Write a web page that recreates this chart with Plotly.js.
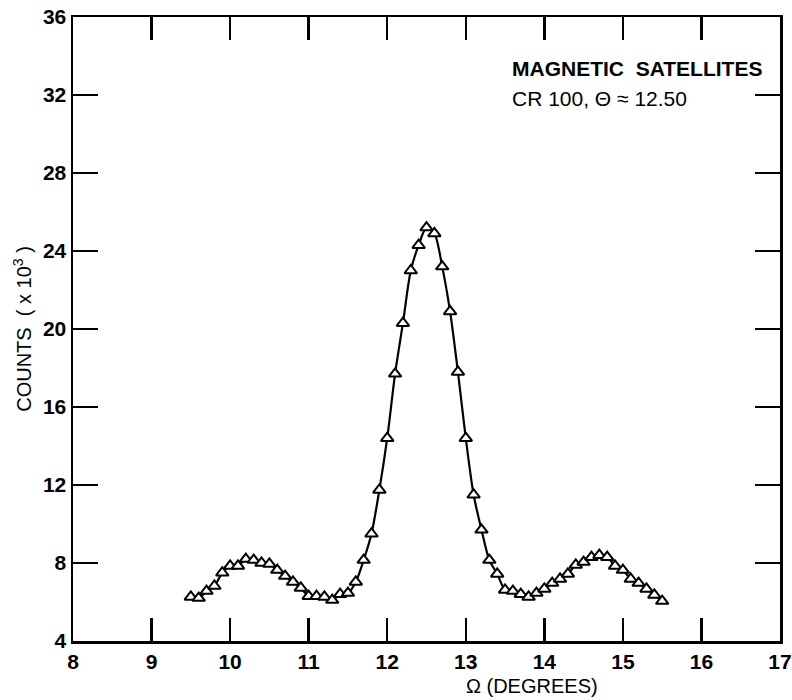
<!DOCTYPE html>
<html>
<head>
<meta charset="utf-8">
<script src="https://cdn.plot.ly/plotly-3.0.1.min.js"></script>
<style>html,body{margin:0;padding:0;background:#fff;}</style>
</head>
<body>
<div id="chart" style="width:792px;height:700px;"></div>
<script>
// Omega (degrees)
const omega = [
  9.5, 9.6, 9.7, 9.8, 9.9, 10.0, 10.1, 10.2, 10.3, 10.4,
  10.5, 10.6, 10.7, 10.8, 10.9, 11.0, 11.1, 11.2, 11.3, 11.4,
  11.5, 11.6, 11.7, 11.8, 11.9, 12.0, 12.1, 12.2, 12.3, 12.4,
  12.5, 12.6, 12.7, 12.8, 12.9, 13.0, 13.1, 13.2, 13.3, 13.4,
  13.5, 13.6, 13.7, 13.8, 13.9, 14.0, 14.1, 14.2, 14.3, 14.4,
  14.5, 14.6, 14.7, 14.8, 14.9, 15.0, 15.1, 15.2, 15.3, 15.4, 15.5
];
// Counts (x 10^3)
const counts = [
  6.26, 6.2, 6.56, 6.82, 7.5, 7.85, 7.85, 8.2, 8.15, 8.0,
  7.95, 7.64, 7.33, 7.03, 6.72, 6.3, 6.3, 6.26, 6.1, 6.4,
  6.46, 7.03, 8.15, 9.5, 11.75, 14.4, 17.7, 20.3, 23.0, 24.3,
  25.2, 24.9, 23.2, 20.9, 17.8, 14.4, 11.5, 9.7, 8.15, 7.44,
  6.62, 6.56, 6.4, 6.26, 6.46, 6.67, 6.97, 7.18, 7.44, 7.9,
  8.05, 8.3, 8.4, 8.3, 7.85, 7.64, 7.18, 6.97, 6.67, 6.36, 6.05
];
const xTicks = [8, 9, 10, 11, 12, 13, 14, 15, 16, 17];
const yTicks = [4, 8, 12, 16, 20, 24, 28, 32, 36];

const fontFam = 'Liberation Sans, Arial, sans-serif';

const trace = {
  x: omega,
  y: counts,
  type: 'scatter',
  mode: 'lines+markers',
  line: {color: '#000', width: 2.2, shape: 'spline', smoothing: 0.8},
  marker: {symbol: 'triangle-up', size: 11, color: '#fff', line: {color: '#000', width: 2}},
  hoverinfo: 'skip'
};

const layout = {
  width: 792,
  height: 700,
  margin: {l: 73, r: 12, t: 17, b: 59},
  paper_bgcolor: '#fff',
  plot_bgcolor: '#fff',
  showlegend: false,
  font: {family: fontFam, color: '#000'},
  xaxis: {
    range: [8, 17],
    tickvals: xTicks,
    ticktext: xTicks.map(String),
    ticks: 'inside',
    ticklen: 23,
    tickwidth: 2.5,
    tickcolor: '#000',
    showline: true,
    linecolor: '#000',
    linewidth: 2.5,
    mirror: 'ticks',
    showgrid: false,
    zeroline: false,
    tickfont: {size: 21, family: fontFam, weight: 'bold'},
    ticklabelstandoff: 0,
    ticklabeloverflow: 'allow'
  },
  yaxis: {
    range: [4, 36],
    tickvals: yTicks,
    ticktext: yTicks.map(String),
    ticks: 'inside',
    ticklen: 25,
    tickwidth: 2.5,
    tickcolor: '#000',
    showline: true,
    linecolor: '#000',
    linewidth: 2.5,
    mirror: 'ticks',
    showgrid: false,
    zeroline: false,
    tickfont: {size: 21, family: fontFam, weight: 'bold'},
    ticklabelstandoff: 0,
    ticklabeloverflow: 'allow',
    title: {text: 'COUNTS  ( x 10<sup>3</sup> )', font: {size: 20, family: fontFam}, standoff: 6}
  },
  annotations: [
    {
      xref: 'paper', yref: 'paper',
      x: 0.618, y: 0.917,
      xanchor: 'left', yanchor: 'middle',
      text: '<b>MAGNETIC  SATELLITES</b>',
      showarrow: false,
      font: {size: 21, family: fontFam, color: '#000'}
    },
    {
      xref: 'paper', yref: 'paper',
      x: 0.618, y: 0.87,
      xanchor: 'left', yanchor: 'middle',
      text: 'CR 100, Θ ≈ 12.50',
      showarrow: false,
      font: {size: 21, family: fontFam, color: '#000'}
    },
    {
      xref: 'paper', yref: 'paper',
      x: 0.553, y: -0.072,
      xanchor: 'left', yanchor: 'middle',
      text: 'Ω (DEGREES)',
      showarrow: false,
      font: {size: 20, family: fontFam, color: '#000'}
    }
  ]
};

Plotly.newPlot('chart', [trace], layout, {displayModeBar: false, staticPlot: true});
</script>
</body>
</html>
